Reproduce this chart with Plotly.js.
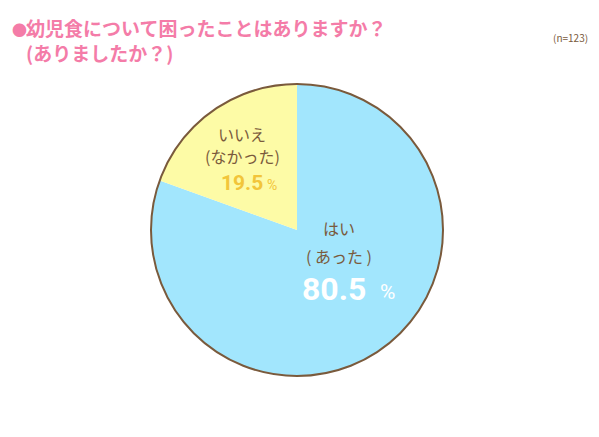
<!DOCTYPE html>
<html><head><meta charset="utf-8">
<script src="https://cdn.plot.ly/plotly-3.0.1.min.js"></script>
<style>body{margin:0;background:#fff}#c{width:599px;height:437px}</style>
</head><body><div id="c"></div>
<script>
const labels = ["はい", "いいえ"];
const subLabels = ["( あった )", "(なかった)"];
const values = [80.5, 19.5];
const colors = ["#a2e6fd", "#fdfba6"];
const pctColors = ["#ffffff", "#f2c53a"];
const titleLine1 = "幼児食について困ったことはありますか？";
const titleLine2 = "(ありましたか？)";
const nText = "(n=123)";

const W = 599, H = 437;
const cx = 297, cy = 230, r = 146;
const dx = [(cx - r) / W, (cx + r) / W];
const dy = [(H - cy - r) / H, (H - cy + r) / H];
const font = "Noto Sans CJK JP, sans-serif";
const numFont = "Roboto, Noto Sans, sans-serif";
const brown = "#7a5a3c";
const pink = "#f47ca8";

const trace = {
  type: "pie", labels: labels, values: values, sort: false, direction: "clockwise",
  rotation: 0, marker: {colors: colors, line: {width: 0}},
  textinfo: "none", hoverinfo: "none", showlegend: false,
  domain: {x: dx, y: dy}
};
const labelPos = [{x: 339, y: 228, y2: 256}, {x: 242, y: 134, y2: 156}];
const pctPos = [{x: 334, y: 289, px: 387, py: 292}, {x: 242, y: 183, px: 272, py: 185}];
const pctSize = [32, 21];
const ann = [];
function A(x, y, text, f, xa, ya) {
  ann.push({xref: "paper", yref: "paper", x: x / W, y: 1 - y / H, text: text, showarrow: false,
    xanchor: xa || "center", yanchor: ya || "middle", align: "left", font: f});
}
labels.forEach((l, i) => {
  A(labelPos[i].x, labelPos[i].y, l, {family: font, size: 16, color: brown});
  A(labelPos[i].x, labelPos[i].y2, subLabels[i], {family: font, size: 16, color: brown});
  A(pctPos[i].x, pctPos[i].y, "<b>" + values[i].toFixed(1) + "</b>", {family: numFont, size: pctSize[i], color: pctColors[i]});
  A(pctPos[i].px, pctPos[i].py, "%", {family: numFont, size: Math.round(pctSize[i] * 0.65), color: pctColors[i]});
});
A(10, 29, "●", {family: font, size: 15, color: pink}, "left");
A(24, 40.5, "<b>" + titleLine1 + "<br>" + titleLine2 + "</b>", {family: font, size: 19, color: pink}, "left");
A(590, 37, nText, {family: font, size: 10, color: brown}, "right");

const layout = {
  width: W, height: H, margin: {l: 0, r: 0, t: 0, b: 0},
  paper_bgcolor: "#fff", plot_bgcolor: "#fff",
  annotations: ann,
  shapes: [{type: "circle", xref: "paper", yref: "paper", x0: dx[0], x1: dx[1], y0: dy[0], y1: dy[1],
    line: {color: brown, width: 2}, layer: "above"}]
};
Plotly.newPlot("c", [trace], layout, {displayModeBar: false, staticPlot: true});
</script></body></html>
